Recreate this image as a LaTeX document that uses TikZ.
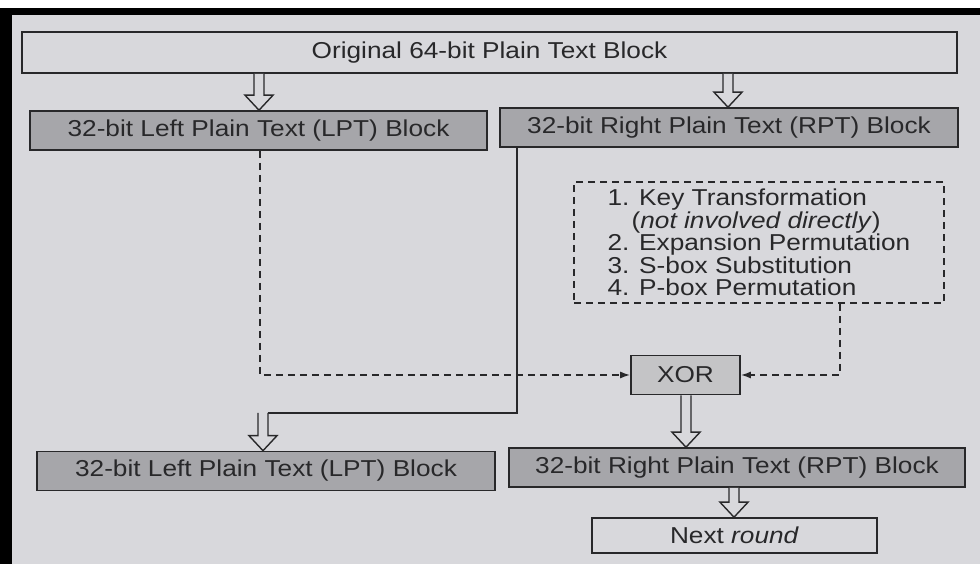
\documentclass[tikz,border=0pt]{standalone}
\usepackage{fontspec}
\setmainfont{Liberation Sans}[FakeStretch=1.14]
\usetikzlibrary{arrows.meta,calc}

\definecolor{pagecol}{RGB}{216,216,220}
\definecolor{inkcol}{RGB}{40,40,42}
\definecolor{blockcol}{RGB}{166,166,170}
\definecolor{xorcol}{RGB}{196,196,198}

% broad hollow arrow pointing down: x position, start point, end point
\newcommand\hollowarrow[3]{%
  \draw[harrow] let \p1=(#2), \p2=(#3) in
    (#1-5,\y1) -- (#1-5,\y2+15) -- (#1-14,\y2+15) -- (#1,\y2)
    -- (#1+14,\y2+15) -- (#1+5,\y2+15) -- (#1+5,\y1);}

\begin{document}
\begin{tikzpicture}[x=1pt,y=1pt,
  ink/.style={draw=inkcol, line width=1.6pt},
  block/.style={ink, fill=blockcol, minimum height=39pt, inner sep=0pt},
  plainbox/.style={ink, fill=pagecol, inner sep=0pt},
  harrow/.style={draw=inkcol, fill=pagecol, line width=1.4pt, line join=miter},
  dashline/.style={draw=inkcol, line width=1.6pt, dash pattern=on 7pt off 5pt},
  tip/.style={-{Latex[length=10pt,width=7pt]}},
  every node/.style={font=\fontsize{23}{22.5}\selectfont, text=inkcol}]

% page with its dark scanned edges
\fill[white] (0,0) rectangle (980,564);
\fill[black] (0,0) rectangle (12,556);
\fill[black] (0,549) rectangle (980,556);
\fill[pagecol] (12,0) rectangle (980,549);
\useasboundingbox (0,0) rectangle (980,564);

% blocks
\node[plainbox, minimum width=935pt, minimum height=41pt] (orig) at (489.5,511.5)
  {Original 64-bit Plain Text Block};
\node[block, minimum width=457pt] (lpt1) at (258.5,433.5)
  {32-bit Left Plain Text (LPT) Block};
\node[block, minimum width=458pt] (rpt1) at (729,436.5)
  {32-bit Right Plain Text (RPT) Block};
\node[dashline, minimum width=370pt, minimum height=121pt, inner sep=0pt, align=left]
  (steps) at (759,321.5)
  {1. Key Transformation\\
   \hspace*{24pt}(\textit{not involved directly})\\
   2. Expansion Permutation\\
   3. S-box Substitution\\
   4. P-box Permutation};
\node[ink, fill=xorcol, minimum width=109pt, minimum height=39pt, inner sep=0pt]
  (xor) at (685.5,189) {XOR};
\node[block, minimum width=458pt] (lpt2) at (266,93)
  {32-bit Left Plain Text (LPT) Block};
\node[block, minimum width=456pt] (rpt2) at (737,96.5)
  {32-bit Right Plain Text (RPT) Block};
\node[plainbox, minimum width=285pt, minimum height=35pt] (next) at (734.5,28.5)
  {Next \textit{round}};

% guide coordinates for the connectors
\coordinate (lx) at (260,0);
\coordinate (rx) at (840,0);
\coordinate (sx) at (517,0);
\coordinate (joint) at (263,151);

% dashed inputs of the XOR
\draw[dashline, tip] (lpt1.south -| lx) |- (xor.west);
\draw[dashline, tip] (steps.south -| rx) |- (xor.east);

% right half becomes the new left half
\draw[ink] (rpt1.south -| sx) |- ($(joint)+(5,0)$);

% broad hollow arrows
\hollowarrow{259}{orig.south}{lpt1.north}
\hollowarrow{728}{orig.south}{rpt1.north}
\hollowarrow{263}{joint}{lpt2.north}
\hollowarrow{686}{xor.south}{rpt2.north}
\hollowarrow{734}{rpt2.south}{next.north}
\end{tikzpicture}
\end{document}
